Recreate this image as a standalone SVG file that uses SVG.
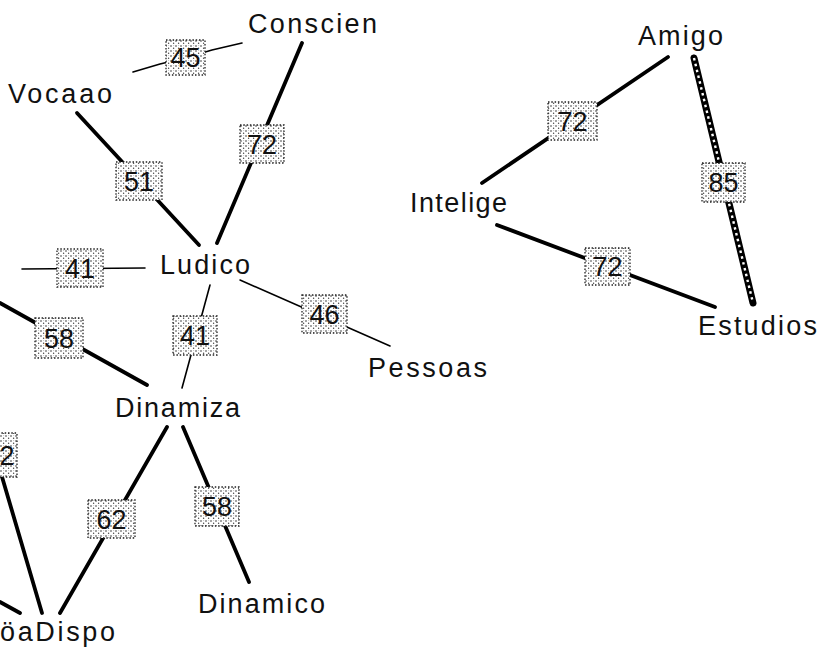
<svg xmlns="http://www.w3.org/2000/svg" width="824" height="653" viewBox="0 0 824 653">
<defs>
<pattern id="stip" width="5" height="5" patternUnits="userSpaceOnUse">
<rect width="5" height="5" fill="#ffffff"/>
<circle cx="1" cy="1" r="0.8" fill="#333"/>
<circle cx="3.6" cy="3.2" r="0.7" fill="#444"/>
<circle cx="3.8" cy="0.6" r="0.4" fill="#666"/>
</pattern>
</defs>
<style>
.node text{font-family:"Liberation Sans",Arial,sans-serif;font-size:27px;fill:#111}
.thick{stroke:#000;stroke-width:3.8;stroke-linecap:round;fill:none}
.thin{stroke:#000;stroke-width:1.6;stroke-linecap:round;fill:none}
.chain{stroke:#000;stroke-width:7;stroke-linecap:round;fill:none}
.chainin{stroke:#fff;stroke-width:2.4;stroke-dasharray:2.5 3.5;fill:none}
.box{fill:url(#stip);stroke:#222;stroke-width:1.3;stroke-dasharray:1.5 1.8}
.lbl{font-family:"Liberation Sans",Arial,sans-serif;font-size:27px;fill:#111;text-anchor:middle}
</style>
<rect width="824" height="653" fill="#fff"/>
<g id="connectors">
<g id="e-vocaao-conscien"><path class="thin" d="M133,72 L160,64 L185,58 L212,50 L242,43"/><rect class="box" x="166" y="40" width="39" height="35"/><text class="lbl" x="185.5" y="67">45</text></g>
<g id="e-conscien-ludico"><line class="thick" x1="302" y1="43" x2="217" y2="243"/><rect class="box" x="240" y="125" width="44" height="38"/><text class="lbl" x="262" y="154">72</text></g>
<g id="e-vocaao-ludico"><line class="thick" x1="77" y1="113" x2="199" y2="245"/><rect class="box" x="116" y="162" width="46" height="38"/><text class="lbl" x="139" y="191">51</text></g>
<g id="e-left-ludico"><line class="thin" x1="22" y1="269" x2="145" y2="268"/><rect class="box" x="57" y="249" width="46" height="38"/><text class="lbl" x="80" y="278">41</text></g>
<g id="e-left-dinamiza"><line class="thick" x1="0" y1="303" x2="147" y2="385"/><rect class="box" x="35" y="318" width="48" height="40"/><text class="lbl" x="59" y="348">58</text></g>
<g id="e-ludico-dinamiza"><line class="thin" x1="210" y1="285" x2="182" y2="388"/><rect class="box" x="173" y="316" width="44" height="39"/><text class="lbl" x="195" y="345">41</text></g>
<g id="e-ludico-pessoas"><line class="thin" x1="240" y1="280" x2="390" y2="346"/><rect class="box" x="302" y="295" width="45" height="38"/><text class="lbl" x="324.5" y="324">46</text></g>
<g id="e-dinamiza-adispo"><line class="thick" x1="167" y1="427" x2="60" y2="613"/><rect class="box" x="88" y="500" width="47" height="38"/><text class="lbl" x="111.5" y="529">62</text></g>
<g id="e-dinamiza-dinamico"><line class="thick" x1="183" y1="427" x2="249" y2="582"/><rect class="box" x="195" y="487" width="44" height="39"/><text class="lbl" x="217" y="516">58</text></g>
<g id="e-left2-adispo"><line class="thick" x1="0" y1="470" x2="42" y2="613"/><rect class="box" x="-25" y="433" width="42" height="44"/><text class="lbl" x="7" y="465">2</text></g>
<g id="e-left3-adispo"><line class="thick" x1="0" y1="602" x2="20" y2="613"/></g>
<g id="e-amigo-intelige"><line class="thick" x1="668" y1="57" x2="482" y2="183"/><rect class="box" x="548" y="102" width="49" height="38"/><text class="lbl" x="572.5" y="131">72</text></g>
<g id="e-amigo-estudios"><line class="chain" x1="694" y1="58" x2="753" y2="303"/><line class="chainin" x1="694" y1="58" x2="753" y2="303"/><rect class="box" x="702" y="163" width="43" height="39"/><text class="lbl" x="723.5" y="192">85</text></g>
<g id="e-intelige-estudios"><line class="thick" x1="497" y1="225" x2="715" y2="307"/><rect class="box" x="585" y="248" width="45" height="37"/><text class="lbl" x="607.5" y="276">72</text></g>
</g>
<g id="n-conscien" class="node"><text x="248" y="33" textLength="129" lengthAdjust="spacing">Conscien</text></g>
<g id="n-vocaao" class="node"><text x="8" y="103" textLength="104" lengthAdjust="spacing">Vocaao</text></g>
<g id="n-ludico" class="node"><text x="160" y="274" textLength="90" lengthAdjust="spacing">Ludico</text></g>
<g id="n-pessoas" class="node"><text x="368" y="377" textLength="119" lengthAdjust="spacing">Pessoas</text></g>
<g id="n-dinamiza" class="node"><text x="115" y="417" textLength="125" lengthAdjust="spacing">Dinamiza</text></g>
<g id="n-dinamico" class="node"><text x="198" y="613" textLength="127" lengthAdjust="spacing">Dinamico</text></g>
<g id="n-adispo" class="node"><text x="0" y="641" textLength="115" lengthAdjust="spacing">öaDispo</text></g>
<g id="n-amigo" class="node"><text x="638" y="45" textLength="85" lengthAdjust="spacing">Amigo</text></g>
<g id="n-intelige" class="node"><text x="410" y="212" textLength="97" lengthAdjust="spacing">Intelige</text></g>
<g id="n-estudios" class="node"><text x="698" y="335" textLength="119" lengthAdjust="spacing">Estudios</text></g>
</svg>
